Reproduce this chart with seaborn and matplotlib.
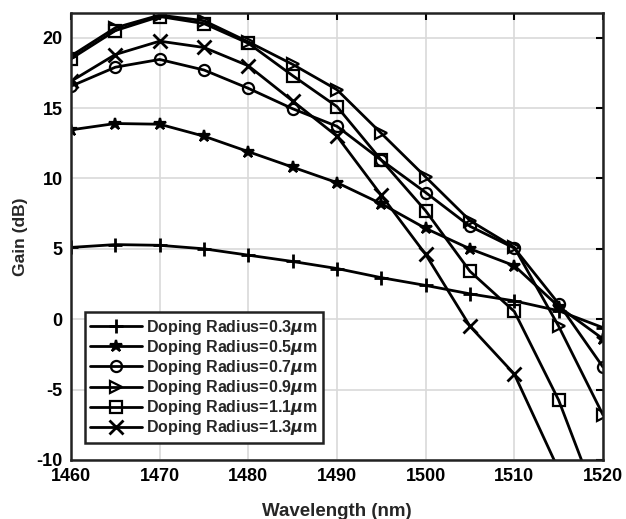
import numpy as np
import pandas as pd
import matplotlib
matplotlib.use("Agg")
import matplotlib.pyplot as plt
import seaborn as sns

wavelength = [1460, 1465, 1470, 1475, 1480, 1485, 1490, 1495, 1500, 1505, 1510, 1515, 1520]
radii = ["0.3", "0.5", "0.7", "0.9", "1.1", "1.3"]
gain_03 = [5.1, 5.3, 5.25, 5.0, 4.55, 4.1, 3.6, 2.95, 2.4, 1.8, 1.3, 0.6, -0.6]
gain_05 = [13.45, 13.9, 13.85, 13.0, 11.9, 10.8, 9.7, 8.2, 6.45, 5.0, 3.8, 0.9, -1.4]
gain_07 = [16.55, 17.9, 18.45, 17.7, 16.4, 14.95, 13.7, 11.3, 9.0, 6.6, 5.05, 1.1, -3.4]
gain_09 = [18.7, 20.7, 21.6, 21.2, 19.7, 18.1, 16.3, 13.2, 10.1, 7.0, 5.1, -0.5, -6.8]
gain_11 = [18.5, 20.5, 21.5, 21.0, 19.6, 17.3, 15.1, 11.3, 7.7, 3.4, 0.55, -5.75, -14.0]
gain_13 = [16.9, 18.8, 19.75, 19.3, 18.0, 15.5, 13.0, 8.8, 4.6, -0.5, -3.9, -10.7, -18.0]
markers = ["+", "*", "o", ">", "s", "x"]

gains = [gain_03, gain_05, gain_07, gain_09, gain_11, gain_13]
rows = []
for r, g in zip(radii, gains):
    for w, v in zip(wavelength, g):
        rows.append({"Wavelength": w, "Gain": v, "Radius": r})
df = pd.DataFrame(rows)

sns.set_style("white")
plt.rcParams["font.family"] = ["Liberation Sans", "DejaVu Sans"]
plt.rcParams["font.weight"] = "bold"
plt.rcParams["mathtext.default"] = "it"
plt.rcParams["axes.unicode_minus"] = False

fig = plt.figure(figsize=(6.26, 5.19), dpi=100)
ax = fig.add_axes([71/626, 1 - 460/519, (603-71)/626, (460-13)/519])

for r, m in zip(radii, markers):
    sub = df[df["Radius"] == r]
    filled = m in ("*",)
    mew = 2.0 if m in ("+", "x") else 1.6
    sns.lineplot(data=sub, x="Wavelength", y="Gain", ax=ax, color="black",
                 linewidth=2.0, marker=m,
                 markersize={"+": 10, "x": 10, "*": 9, "o": 8, ">": 9, "s": 8}[m],
                 markerfacecolor="black" if filled else "none",
                 markeredgecolor="black", markeredgewidth=mew,
                 label="Doping Radius=" + r + r"$\mu$m")

ax.set_xlim(1460, 1520)
ax.set_ylim(-10, 21.75)
ax.set_xticks([1460, 1470, 1480, 1490, 1500, 1510, 1520])
ax.set_yticks([-10, -5, 0, 5, 10, 15, 20])
ax.grid(True, color="#d9d9d9", linewidth=1.2)
ax.tick_params(direction="in", top=True, right=True, length=5, width=1.5,
               labelsize=13, colors="black", pad=6)
for lab in ax.get_xticklabels() + ax.get_yticklabels():
    lab.set_fontweight("bold")
for s in ax.spines.values():
    s.set_visible(True)
    s.set_color("#222222")
    s.set_linewidth(1.8)
ax.set_xlabel("Wavelength (nm)", fontsize=13.5, fontweight="bold", labelpad=13)
ax.set_ylabel("Gain (dB)", fontsize=12.5, fontweight="bold", labelpad=6)

leg = ax.legend(loc="lower left", bbox_to_anchor=(0.026, 0.038), fancybox=False,
                framealpha=1, edgecolor="#222222", fontsize=11.5, handlelength=3.2,
                borderpad=0.35, labelspacing=0.07, handletextpad=0.3, borderaxespad=0)
leg.get_frame().set_linewidth(1.8)
for t in leg.get_texts():
    t.set_fontweight("bold")

fig.savefig("out.png", dpi=100)
